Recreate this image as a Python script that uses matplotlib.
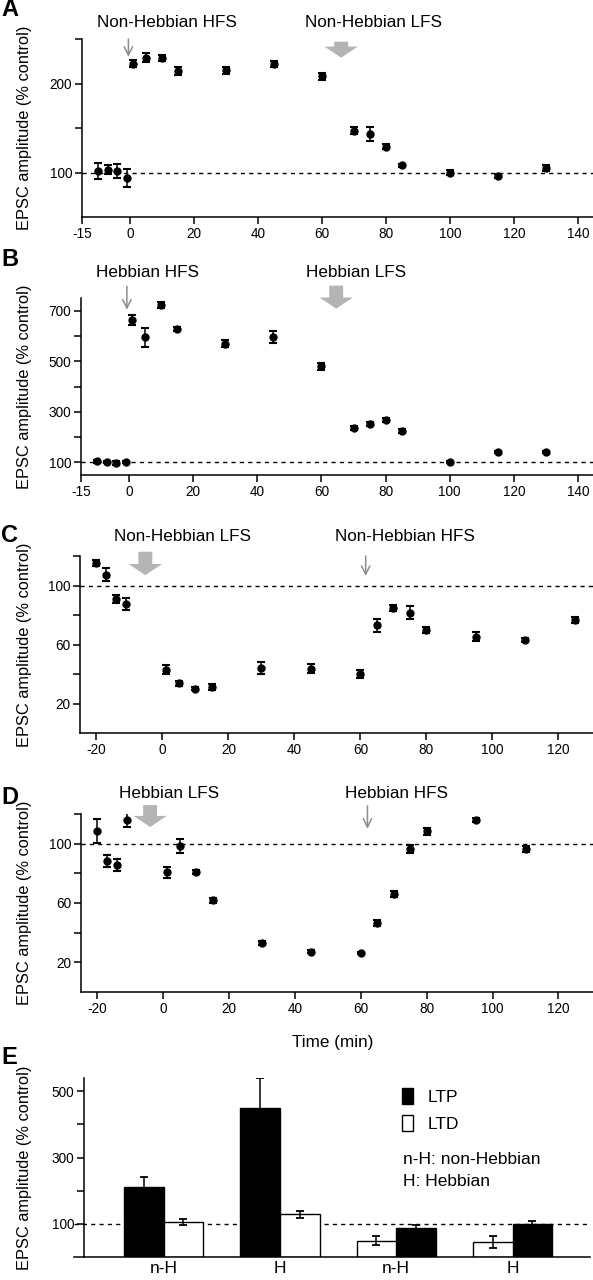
import matplotlib
matplotlib.use('Agg')
import matplotlib.pyplot as plt
from matplotlib.patches import Patch

plt.rcParams['font.family'] = ['Liberation Sans', 'DejaVu Sans']

# panel A: non-Hebbian HFS then LFS
a_time = [-10, -7, -4, -1, 1, 5, 10, 15, 30, 45, 60, 70, 75, 80, 85, 100, 115, 130]
a_mean = [101.5, 103, 102, 94, 222, 229, 228.5, 214, 214.7, 222, 208, 147, 143, 129, 108, 100, 96, 105]
a_sem = [9, 5, 8, 10, 4, 5, 3, 4, 4, 3, 4, 4, 8, 3, 2, 3, 2, 3]

# panel B: Hebbian HFS then LFS
b_time = [-10, -7, -4, -1, 1, 5, 10, 15, 30, 45, 60, 70, 75, 80, 85, 100, 115, 130]
b_mean = [105, 103, 96, 103, 663, 594, 722, 629, 570, 595, 480, 235, 253, 266, 224, 100, 141, 141]
b_sem = [6, 4, 8, 4, 20, 37, 12, 8, 12, 23, 13, 8, 8, 8, 6, 4, 3, 3]

# panel C: non-Hebbian LFS then HFS
c_time = [-20, -17, -14, -11, 1, 5, 10, 15, 30, 45, 60, 65, 70, 75, 80, 95, 110, 125]
c_mean = [115.5, 107.4, 90.8, 87.7, 43, 33.6, 30, 31.2, 44.2, 43.7, 40, 72.9, 85, 81.6, 70, 65.2, 63.2, 76.9]
c_sem = [2, 4.4, 3, 4, 3, 1.5, 1, 2, 4, 3, 3, 4.5, 2, 4.5, 2, 3, 1.5, 2]

# panel D: Hebbian LFS then HFS
d_time = [-20, -17, -14, -11, 1, 5, 10, 15, 30, 45, 60, 65, 70, 75, 80, 95, 110]
d_mean = [108.7, 88.6, 85.5, 115.9, 80.6, 98.4, 80.8, 61.8, 33.2, 27, 26.3, 46.4, 65.8, 96.4, 108.3, 115.9, 96.6]
d_sem = [8, 4, 4, 4.5, 3.5, 4.5, 1.5, 1.5, 1.5, 1, 1, 2, 2, 2.5, 2.5, 1.5, 2]

# panel E: summary
e_groups = ['n-H', 'H', 'n-H', 'H']
ltp_mean = [210, 450, 88, 100]
ltp_sem = [31, 91, 10, 8]
ltd_mean = [106, 129, 49, 44]
ltd_sem = [10, 11, 13, 18]
ltp_side = [-1, -1, 1, 1]   # black bar left for first two groups, right for the others

W, H = 593, 1280
fig = plt.figure(figsize=(W / 100, H / 100), dpi=100)


def px_axes(left, top, right, bottom):
    return fig.add_axes([left / W, 1 - bottom / H, (right - left) / W, (bottom - top) / H])


def style(ax):
    ax.spines['top'].set_visible(False)
    ax.spines['right'].set_visible(False)
    ax.spines['left'].set_linewidth(1.1)
    ax.spines['bottom'].set_linewidth(1.1)
    ax.tick_params(direction='out', length=5, width=1.1, labelsize=9.8, pad=2)


def time_panel(ax, t, m, s, xlim, ylim, yticks, ylabels, xticks):
    style(ax)
    ax.axhline(100, color='black', lw=1, ls=(0, (3, 3)), zorder=0)
    ax.errorbar(t, m, yerr=s, fmt='o', color='black', ms=5, capsize=3,
                elinewidth=1.1, capthick=1.5, zorder=3)
    ax.set_xlim(*xlim)
    ax.set_ylim(*ylim)
    ax.set_yticks(yticks)
    ax.set_yticklabels(ylabels)
    ax.set_xticks(xticks)
    ax.set_xticklabels([str(v) for v in xticks])


def thin_arrow(ax, x, y0, y1):
    ax.annotate('', xy=(x, y1), xytext=(x, y0), xycoords=ax.get_xaxis_transform(),
                arrowprops=dict(arrowstyle='->,head_length=0.6,head_width=0.3', color='#8c8c8c',
                                lw=1.1, shrinkA=0, shrinkB=0, mutation_scale=10),
                annotation_clip=False)


def thick_arrow(ax, x, y0, y1):
    ax.annotate('', xy=(x, y1), xytext=(x, y0), xycoords=ax.get_xaxis_transform(),
                arrowprops=dict(arrowstyle='simple,head_length=8,head_width=24,tail_width=10',
                                color='#b4b4b4', lw=0, shrinkA=0, shrinkB=0, mutation_scale=1),
                annotation_clip=False)


def label(ax, x, y, s):
    ax.text(x, y, s, transform=ax.get_xaxis_transform(), ha='center', va='center', fontsize=12.3)


# A
ax_a = px_axes(82, 39, 593, 217)
time_panel(ax_a, a_time, a_mean, a_sem, (-15, 144.7), (50, 250),
           [100, 150, 200, 250], ['100', '', '200', ''], [-15, 0, 20, 40, 60, 80, 100, 120, 140])
label(ax_a, 11.5, 1.094, 'Non-Hebbian HFS')
label(ax_a, 76, 1.094, 'Non-Hebbian LFS')
thin_arrow(ax_a, -0.5, 1.0, 0.9)
thick_arrow(ax_a, 66, 0.985, 0.895)

# B
ax_b = px_axes(81, 298, 593, 475)
time_panel(ax_b, b_time, b_mean, b_sem, (-15, 144.7), (50, 750),
           [100, 200, 300, 400, 500, 600, 700], ['100', '', '300', '', '500', '', '700'],
           [-15, 0, 20, 40, 60, 80, 100, 120, 140])
label(ax_b, 5.7, 1.145, 'Hebbian HFS')
label(ax_b, 70.8, 1.145, 'Hebbian LFS')
thin_arrow(ax_b, -0.7, 1.066, 0.934)
thick_arrow(ax_b, 64.6, 1.07, 0.94)

# C
ax_c = px_axes(80, 556, 593, 733)
time_panel(ax_c, c_time, c_mean, c_sem, (-25, 130.5), (0, 120),
           [20, 40, 60, 80, 100, 120], ['20', '', '60', '', '100', ''],
           [-20, 0, 20, 40, 60, 80, 100, 120])
label(ax_c, 6.2, 1.109, 'Non-Hebbian LFS')
label(ax_c, 73.6, 1.109, 'Non-Hebbian HFS')
thick_arrow(ax_c, -5.2, 1.024, 0.892)
thin_arrow(ax_c, 61.6, 1.0, 0.887)

# D
ax_d = px_axes(81, 814, 593, 992)
time_panel(ax_d, d_time, d_mean, d_sem, (-25, 130.5), (0, 120),
           [20, 40, 60, 80, 100, 120], ['20', '', '60', '', '100', ''],
           [-20, 0, 20, 40, 60, 80, 100, 120])
label(ax_d, 1.7, 1.113, 'Hebbian LFS')
label(ax_d, 70.7, 1.113, 'Hebbian HFS')
thick_arrow(ax_d, -4, 1.05, 0.927)
thin_arrow(ax_d, 62, 1.045, 0.917)
fig.text(333 / W, 1 - 1042 / H, 'Time (min)', ha='center', va='center', fontsize=12.3)

# E
ax_e = px_axes(74, 1078, 590, 1257)
style(ax_e)
bw = 0.341
gx = list(range(len(e_groups)))
ltp_x = [g + sd * bw / 2 for g, sd in zip(gx, ltp_side)]
ltd_x = [g - sd * bw / 2 for g, sd in zip(gx, ltp_side)]
ax_e.axhline(100, color='black', lw=1, ls=(0, (3, 3)), zorder=0)
ax_e.bar(ltp_x, ltp_mean, width=bw, color='black', edgecolor='black', lw=1, zorder=2)
ax_e.bar(ltd_x, ltd_mean, width=bw, color='white', edgecolor='black', lw=1, zorder=2)
ax_e.errorbar(ltp_x, ltp_mean, yerr=ltp_sem, fmt='none', ecolor='black', elinewidth=1.1,
              capsize=3, capthick=1.3, zorder=3)
ax_e.errorbar(ltd_x, ltd_mean, yerr=ltd_sem, fmt='none', ecolor='black', elinewidth=1.1,
              capsize=3, capthick=1.3, zorder=3)
ax_e.set_xlim(-0.77, 3.665)
ax_e.set_ylim(0, 540)
ax_e.spines['left'].set_position(('data', -0.682))
ax_e.set_yticks([100, 200, 300, 400, 500])
ax_e.set_yticklabels(['100', '', '300', '', '500'])
ax_e.set_xticks(gx)
ax_e.set_xticklabels(e_groups, fontsize=12.5)
ax_e.tick_params(axis='x', length=0, pad=3)
fig.legend(handles=[Patch(facecolor='black', edgecolor='black'),
                    Patch(facecolor='white', edgecolor='black')],
           labels=['LTP', 'LTD'], loc='upper left', bbox_to_anchor=(402 / W, 1 - 1088 / H),
           frameon=False, fontsize=12.5, handlelength=0.65, handleheight=1.0,
           handletextpad=0.8, labelspacing=0.6, borderpad=0, borderaxespad=0)
fig.text(403 / W, 1 - 1159 / H, 'n-H: non-Hebbian', ha='left', va='center', fontsize=12.5)
fig.text(403 / W, 1 - 1181 / H, 'H: Hebbian', ha='left', va='center', fontsize=12.5)

# y labels and panel letters
for top, bot in [(39, 217), (298, 475), (556, 733), (814, 992), (1078, 1257)]:
    fig.text(25 / W, 1 - (top + bot) / 2 / H, 'EPSC amplitude (% control)', rotation=90,
             ha='center', va='center', fontsize=11.8)
for s, y in [('A', 9), ('B', 259), ('C', 536), ('D', 797), ('E', 1057)]:
    fig.text(1 / W, 1 - y / H, s, ha='left', va='center', fontsize=17, fontweight='bold')

fig.savefig('out.png', dpi=100)
